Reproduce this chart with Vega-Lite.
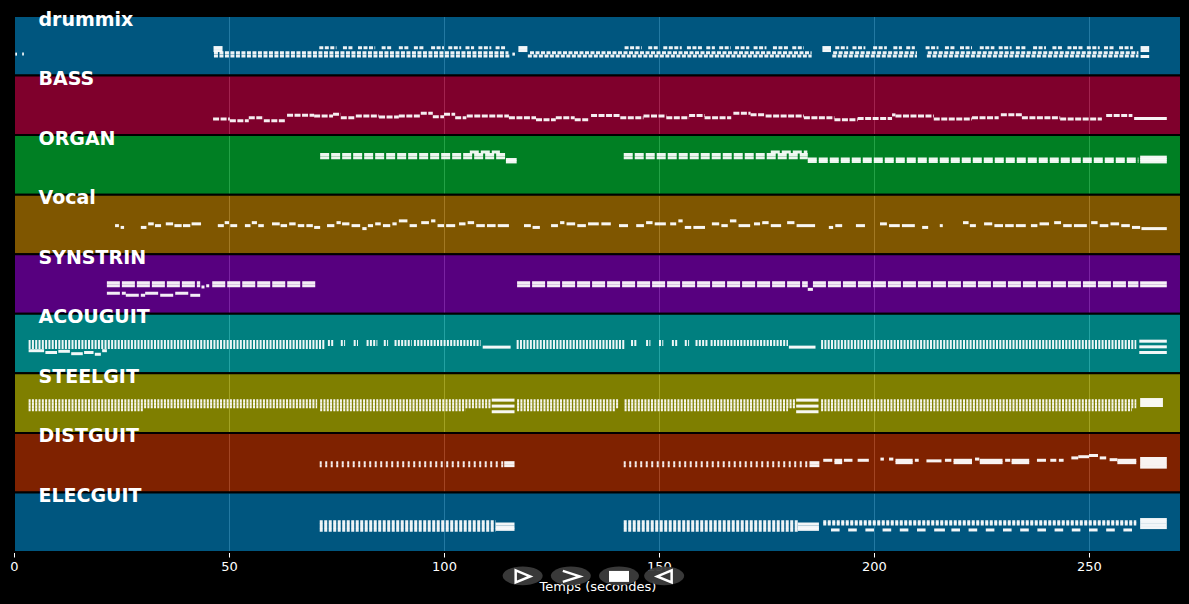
{
  "$schema": "https://vega.github.io/schema/vega-lite/v6.json",
  "width": 1167,
  "height": 536,
  "autosize": {"type": "none"},
  "padding": {"left": 14, "top": 16, "right": 8, "bottom": 52},
  "background": "#000000",
  "config": {"view": {"stroke": null}, "font": "DejaVu Sans"},
  "datasets": {
    "tracks": [
      {"name": "drummix", "from": 0, "to": 1},
      {"name": "BASS", "from": 1, "to": 2},
      {"name": "ORGAN", "from": 2, "to": 3},
      {"name": "Vocal", "from": 3, "to": 4},
      {"name": "SYNSTRIN", "from": 4, "to": 5},
      {"name": "ACOUGUIT", "from": 5, "to": 6},
      {"name": "STEELGIT", "from": 6, "to": 7},
      {"name": "DISTGUIT", "from": 7, "to": 8},
      {"name": "ELECGUIT", "from": 8, "to": 9}
    ],
    "textures": [
      {"k": "drummix", "s": 46.5, "e": 115.2, "y": 0.67},
      {"k": "drummix", "s": 119.5, "e": 185.5, "y": 0.67},
      {"k": "drummix", "s": 190.3, "e": 210, "y": 0.67},
      {"k": "drummix", "s": 212.3, "e": 261.5, "y": 0.67},
      {"k": "drummix", "s": 46.5, "e": 115, "y": 0.615},
      {"k": "drummix", "s": 120, "e": 185.5, "y": 0.615},
      {"k": "drummix", "s": 190.5, "e": 210, "y": 0.615},
      {"k": "drummix", "s": 212.5, "e": 261.5, "y": 0.615},
      {"k": "drummix", "s": 71, "e": 75, "y": 0.535},
      {"k": "drummix", "s": 76.5, "e": 79, "y": 0.535},
      {"k": "drummix", "s": 80, "e": 84, "y": 0.535},
      {"k": "drummix", "s": 85.5, "e": 88, "y": 0.535},
      {"k": "drummix", "s": 89.5, "e": 92, "y": 0.535},
      {"k": "drummix", "s": 93, "e": 95.5, "y": 0.535},
      {"k": "drummix", "s": 97, "e": 100, "y": 0.535},
      {"k": "drummix", "s": 101, "e": 104, "y": 0.535},
      {"k": "drummix", "s": 105, "e": 107, "y": 0.535},
      {"k": "drummix", "s": 108, "e": 111, "y": 0.535},
      {"k": "drummix", "s": 112, "e": 114.2, "y": 0.535},
      {"k": "drummix", "s": 142, "e": 146, "y": 0.535},
      {"k": "drummix", "s": 147.5, "e": 150, "y": 0.535},
      {"k": "drummix", "s": 151, "e": 155.3, "y": 0.535},
      {"k": "drummix", "s": 156.5, "e": 160, "y": 0.535},
      {"k": "drummix", "s": 161, "e": 163, "y": 0.535},
      {"k": "drummix", "s": 164, "e": 166.7, "y": 0.535},
      {"k": "drummix", "s": 167.7, "e": 171, "y": 0.535},
      {"k": "drummix", "s": 172, "e": 175, "y": 0.535},
      {"k": "drummix", "s": 176.5, "e": 180, "y": 0.535},
      {"k": "drummix", "s": 181, "e": 183.7, "y": 0.535},
      {"k": "drummix", "s": 191, "e": 194, "y": 0.535},
      {"k": "drummix", "s": 195, "e": 198, "y": 0.535},
      {"k": "drummix", "s": 199.8, "e": 203, "y": 0.535},
      {"k": "drummix", "s": 204.5, "e": 206.5, "y": 0.535},
      {"k": "drummix", "s": 207.5, "e": 209.5, "y": 0.535},
      {"k": "drummix", "s": 212, "e": 215, "y": 0.535},
      {"k": "drummix", "s": 216.5, "e": 219, "y": 0.535},
      {"k": "drummix", "s": 220, "e": 222.8, "y": 0.535},
      {"k": "drummix", "s": 224.6, "e": 228, "y": 0.535},
      {"k": "drummix", "s": 229, "e": 232, "y": 0.535},
      {"k": "drummix", "s": 233, "e": 235.3, "y": 0.535},
      {"k": "drummix", "s": 237, "e": 240, "y": 0.535},
      {"k": "drummix", "s": 241.5, "e": 244, "y": 0.535},
      {"k": "drummix", "s": 245, "e": 248.6, "y": 0.535},
      {"k": "drummix", "s": 249.5, "e": 252.5, "y": 0.535},
      {"k": "drummix", "s": 253.5, "e": 256, "y": 0.535},
      {"k": "drummix", "s": 257, "e": 260.2, "y": 0.535},
      {"k": "BASS", "s": 46.3, "e": 50.2, "y": 1.73},
      {"k": "BASS", "s": 50.2, "e": 54.6, "y": 1.76},
      {"k": "BASS", "s": 54.6, "e": 58.1, "y": 1.71},
      {"k": "BASS", "s": 58.1, "e": 63, "y": 1.76},
      {"k": "BASS", "s": 63.5, "e": 69.8, "y": 1.665},
      {"k": "BASS", "s": 69.8, "e": 74.2, "y": 1.68},
      {"k": "BASS", "s": 74.2, "e": 76, "y": 1.65},
      {"k": "BASS", "s": 76, "e": 79.5, "y": 1.71},
      {"k": "BASS", "s": 79.5, "e": 84.9, "y": 1.68},
      {"k": "BASS", "s": 84.9, "e": 89.5, "y": 1.695},
      {"k": "BASS", "s": 89.5, "e": 94.6, "y": 1.68},
      {"k": "BASS", "s": 94.6, "e": 97.4, "y": 1.635},
      {"k": "BASS", "s": 97.4, "e": 100, "y": 1.69},
      {"k": "BASS", "s": 100, "e": 102.6, "y": 1.65},
      {"k": "BASS", "s": 102.6, "e": 105.2, "y": 1.71},
      {"k": "BASS", "s": 105.3, "e": 115.1, "y": 1.68},
      {"k": "BASS", "s": 115.1, "e": 121.4, "y": 1.71},
      {"k": "BASS", "s": 121.4, "e": 126, "y": 1.74},
      {"k": "BASS", "s": 126, "e": 130.4, "y": 1.71},
      {"k": "BASS", "s": 130.4, "e": 133.9, "y": 1.74},
      {"k": "BASS", "s": 134.2, "e": 141, "y": 1.67},
      {"k": "BASS", "s": 141, "e": 146.4, "y": 1.71},
      {"k": "BASS", "s": 146.4, "e": 151.7, "y": 1.68},
      {"k": "BASS", "s": 151.7, "e": 157, "y": 1.71},
      {"k": "BASS", "s": 157, "e": 160.6, "y": 1.67},
      {"k": "BASS", "s": 160.6, "e": 166.8, "y": 1.71},
      {"k": "BASS", "s": 167.3, "e": 171.3, "y": 1.635},
      {"k": "BASS", "s": 171.3, "e": 174.8, "y": 1.66},
      {"k": "BASS", "s": 174.8, "e": 183.7, "y": 1.68},
      {"k": "BASS", "s": 183.7, "e": 190.8, "y": 1.71},
      {"k": "BASS", "s": 190.8, "e": 196.2, "y": 1.74},
      {"k": "BASS", "s": 196.2, "e": 204.2, "y": 1.72},
      {"k": "BASS", "s": 204.2, "e": 205, "y": 1.66},
      {"k": "BASS", "s": 205, "e": 213.9, "y": 1.68},
      {"k": "BASS", "s": 213.9, "e": 222.8, "y": 1.73},
      {"k": "BASS", "s": 222.8, "e": 229, "y": 1.71},
      {"k": "BASS", "s": 229.5, "e": 234.4, "y": 1.66},
      {"k": "BASS", "s": 234.4, "e": 243.3, "y": 1.71},
      {"k": "BASS", "s": 243.3, "e": 253, "y": 1.73},
      {"k": "BASS", "s": 254, "e": 260.1, "y": 1.67},
      {"k": "ORGAN", "s": 71.2, "e": 114.2, "y": 2.325},
      {"k": "ORGAN", "s": 71.2, "e": 114.2, "y": 2.38},
      {"k": "ORGAN", "s": 106, "e": 113, "y": 2.285},
      {"k": "ORGAN", "s": 141.8, "e": 184.6, "y": 2.325},
      {"k": "ORGAN", "s": 141.8, "e": 184.6, "y": 2.38},
      {"k": "ORGAN", "s": 176, "e": 184.5, "y": 2.285},
      {"k": "ORGAN", "s": 184.6, "e": 261.5, "y": 2.4},
      {"k": "ORGAN", "s": 184.6, "e": 261.5, "y": 2.445},
      {"k": "SYNSTRIN", "s": 21.6, "e": 43.3, "y": 4.48},
      {"k": "SYNSTRIN", "s": 21.6, "e": 43.3, "y": 4.53},
      {"k": "SYNSTRIN", "s": 46.1, "e": 70.4, "y": 4.48},
      {"k": "SYNSTRIN", "s": 46.1, "e": 70.4, "y": 4.53},
      {"k": "SYNSTRIN", "s": 117, "e": 184.6, "y": 4.48},
      {"k": "SYNSTRIN", "s": 117, "e": 184.6, "y": 4.53},
      {"k": "SYNSTRIN", "s": 185.8, "e": 261.5, "y": 4.48},
      {"k": "SYNSTRIN", "s": 185.8, "e": 261.5, "y": 4.53},
      {"k": "SYNSTRIN", "s": 21.6, "e": 26, "y": 4.655},
      {"k": "SYNSTRIN", "s": 26, "e": 30.5, "y": 4.69},
      {"k": "SYNSTRIN", "s": 30.5, "e": 34, "y": 4.655},
      {"k": "SYNSTRIN", "s": 34, "e": 37.5, "y": 4.69},
      {"k": "SYNSTRIN", "s": 37.5, "e": 41, "y": 4.655},
      {"k": "SYNSTRIN", "s": 41, "e": 43.3, "y": 4.69},
      {"k": "ACOUGUIT", "s": 3.4, "e": 72.4, "y": 5.465},
      {"k": "ACOUGUIT", "s": 3.4, "e": 72.4, "y": 5.515},
      {"k": "ACOUGUIT", "s": 3.4, "e": 72.4, "y": 5.565},
      {"k": "ACOUGUIT", "s": 116.9, "e": 142, "y": 5.465},
      {"k": "ACOUGUIT", "s": 116.9, "e": 142, "y": 5.515},
      {"k": "ACOUGUIT", "s": 116.9, "e": 142, "y": 5.565},
      {"k": "ACOUGUIT", "s": 187.7, "e": 261, "y": 5.465},
      {"k": "ACOUGUIT", "s": 187.7, "e": 261, "y": 5.515},
      {"k": "ACOUGUIT", "s": 187.7, "e": 261, "y": 5.565},
      {"k": "ACOUGUIT", "s": 73, "e": 74.5, "y": 5.465},
      {"k": "ACOUGUIT", "s": 76, "e": 77, "y": 5.465},
      {"k": "ACOUGUIT", "s": 79, "e": 80, "y": 5.465},
      {"k": "ACOUGUIT", "s": 82, "e": 84.5, "y": 5.465},
      {"k": "ACOUGUIT", "s": 86, "e": 87, "y": 5.465},
      {"k": "ACOUGUIT", "s": 88.5, "e": 92.5, "y": 5.465},
      {"k": "ACOUGUIT", "s": 73, "e": 74.5, "y": 5.515},
      {"k": "ACOUGUIT", "s": 76, "e": 77, "y": 5.515},
      {"k": "ACOUGUIT", "s": 79, "e": 80, "y": 5.515},
      {"k": "ACOUGUIT", "s": 82, "e": 84.5, "y": 5.515},
      {"k": "ACOUGUIT", "s": 86, "e": 87, "y": 5.515},
      {"k": "ACOUGUIT", "s": 88.5, "e": 92.5, "y": 5.515},
      {"k": "ACOUGUIT", "s": 143.5, "e": 145, "y": 5.465},
      {"k": "ACOUGUIT", "s": 147, "e": 148, "y": 5.465},
      {"k": "ACOUGUIT", "s": 150, "e": 151, "y": 5.465},
      {"k": "ACOUGUIT", "s": 153, "e": 154.5, "y": 5.465},
      {"k": "ACOUGUIT", "s": 156, "e": 157, "y": 5.465},
      {"k": "ACOUGUIT", "s": 158.5, "e": 161.5, "y": 5.465},
      {"k": "ACOUGUIT", "s": 143.5, "e": 145, "y": 5.515},
      {"k": "ACOUGUIT", "s": 147, "e": 148, "y": 5.515},
      {"k": "ACOUGUIT", "s": 150, "e": 151, "y": 5.515},
      {"k": "ACOUGUIT", "s": 153, "e": 154.5, "y": 5.515},
      {"k": "ACOUGUIT", "s": 156, "e": 157, "y": 5.515},
      {"k": "ACOUGUIT", "s": 158.5, "e": 161.5, "y": 5.515},
      {"k": "ACOUGUIT", "s": 93, "e": 108.5, "y": 5.465},
      {"k": "ACOUGUIT", "s": 93, "e": 108.5, "y": 5.515},
      {"k": "ACOUGUIT", "s": 162, "e": 180, "y": 5.465},
      {"k": "ACOUGUIT", "s": 162, "e": 180, "y": 5.515},
      {"k": "STEELGIT", "s": 3.4, "e": 70.5, "y": 6.46},
      {"k": "STEELGIT", "s": 3.4, "e": 70.5, "y": 6.51},
      {"k": "STEELGIT", "s": 3.4, "e": 70.5, "y": 6.56},
      {"k": "STEELGIT", "s": 71.2, "e": 111, "y": 6.46},
      {"k": "STEELGIT", "s": 71.2, "e": 111, "y": 6.51},
      {"k": "STEELGIT", "s": 71.2, "e": 111, "y": 6.56},
      {"k": "STEELGIT", "s": 117, "e": 140.5, "y": 6.46},
      {"k": "STEELGIT", "s": 117, "e": 140.5, "y": 6.51},
      {"k": "STEELGIT", "s": 117, "e": 140.5, "y": 6.56},
      {"k": "STEELGIT", "s": 142, "e": 181.9, "y": 6.46},
      {"k": "STEELGIT", "s": 142, "e": 181.9, "y": 6.51},
      {"k": "STEELGIT", "s": 142, "e": 181.9, "y": 6.56},
      {"k": "STEELGIT", "s": 187.7, "e": 261, "y": 6.46},
      {"k": "STEELGIT", "s": 187.7, "e": 261, "y": 6.51},
      {"k": "STEELGIT", "s": 187.7, "e": 261, "y": 6.56},
      {"k": "STEELGIT", "s": 3.4, "e": 30, "y": 6.61},
      {"k": "STEELGIT", "s": 71.2, "e": 105, "y": 6.61},
      {"k": "STEELGIT", "s": 117, "e": 140, "y": 6.61},
      {"k": "STEELGIT", "s": 142, "e": 180, "y": 6.61},
      {"k": "STEELGIT", "s": 187.7, "e": 260, "y": 6.61},
      {"k": "DISTGUIT", "s": 71.1, "e": 114, "y": 7.5},
      {"k": "DISTGUIT", "s": 71.1, "e": 114, "y": 7.55},
      {"k": "DISTGUIT", "s": 141.8, "e": 185, "y": 7.5},
      {"k": "DISTGUIT", "s": 141.8, "e": 185, "y": 7.55},
      {"k": "ELECGUIT", "s": 71.1, "e": 112, "y": 8.49},
      {"k": "ELECGUIT", "s": 71.1, "e": 112, "y": 8.54},
      {"k": "ELECGUIT", "s": 71.1, "e": 112, "y": 8.59},
      {"k": "ELECGUIT", "s": 71.1, "e": 112, "y": 8.635},
      {"k": "ELECGUIT", "s": 141.8, "e": 182.3, "y": 8.49},
      {"k": "ELECGUIT", "s": 141.8, "e": 182.3, "y": 8.54},
      {"k": "ELECGUIT", "s": 141.8, "e": 182.3, "y": 8.59},
      {"k": "ELECGUIT", "s": 141.8, "e": 182.3, "y": 8.635},
      {"k": "ELECGUIT", "s": 188.2, "e": 261, "y": 8.49},
      {"k": "ELECGUIT", "s": 188.2, "e": 261, "y": 8.53}
    ],
    "notes": [
      {"s": 0.3, "e": 0.7, "y": 0.64},
      {"s": 1.9, "e": 2.3, "y": 0.64},
      {"s": 46.4, "e": 48.5, "y": 0.53},
      {"s": 46.4, "e": 48.5, "y": 0.58},
      {"s": 115.9, "e": 116.5, "y": 0.64},
      {"s": 117.3, "e": 119.4, "y": 0.53},
      {"s": 117.3, "e": 119.4, "y": 0.58},
      {"s": 188, "e": 190, "y": 0.53},
      {"s": 188, "e": 190, "y": 0.58},
      {"s": 262, "e": 264, "y": 0.53},
      {"s": 262, "e": 264, "y": 0.58},
      {"s": 262, "e": 264, "y": 0.68},
      {"s": 260.5, "e": 268.1, "y": 1.72},
      {"s": 114.4, "e": 116.9, "y": 2.41},
      {"s": 114.4, "e": 116.9, "y": 2.45},
      {"s": 261.9, "e": 268.1, "y": 2.37},
      {"s": 261.9, "e": 268.1, "y": 2.41},
      {"s": 261.9, "e": 268.1, "y": 2.45},
      {"s": 23.5, "e": 24.4, "y": 3.52},
      {"s": 24.8, "e": 25.6, "y": 3.55},
      {"s": 29.5, "e": 30.8, "y": 3.55},
      {"s": 31.2, "e": 32.5, "y": 3.49},
      {"s": 32.8, "e": 34.2, "y": 3.52},
      {"s": 35.3, "e": 37, "y": 3.49},
      {"s": 37.3, "e": 39, "y": 3.52},
      {"s": 39.3, "e": 41, "y": 3.52},
      {"s": 41.3, "e": 43.5, "y": 3.49},
      {"s": 47.4, "e": 48.8, "y": 3.52},
      {"s": 49, "e": 50, "y": 3.47},
      {"s": 50.3, "e": 51.9, "y": 3.52},
      {"s": 53.7, "e": 55, "y": 3.52},
      {"s": 55.3, "e": 56.5, "y": 3.47},
      {"s": 56.8, "e": 58.1, "y": 3.52},
      {"s": 60, "e": 61.8, "y": 3.49},
      {"s": 62, "e": 63.5, "y": 3.52},
      {"s": 64, "e": 65.5, "y": 3.49},
      {"s": 66, "e": 67.5, "y": 3.52},
      {"s": 68, "e": 69.5, "y": 3.52},
      {"s": 69.8, "e": 71.2, "y": 3.55},
      {"s": 72.8, "e": 74.5, "y": 3.52},
      {"s": 75, "e": 76, "y": 3.47},
      {"s": 76.3, "e": 78, "y": 3.49},
      {"s": 78.5, "e": 80.5, "y": 3.52},
      {"s": 81, "e": 82, "y": 3.57},
      {"s": 82.3, "e": 83.5, "y": 3.52},
      {"s": 84, "e": 85.3, "y": 3.49},
      {"s": 85.8, "e": 87.5, "y": 3.52},
      {"s": 88, "e": 89, "y": 3.49},
      {"s": 89.5, "e": 91.5, "y": 3.44},
      {"s": 92, "e": 93.7, "y": 3.52},
      {"s": 94.7, "e": 96.5, "y": 3.47},
      {"s": 97, "e": 98, "y": 3.44},
      {"s": 98.5, "e": 100, "y": 3.52},
      {"s": 100.5, "e": 102.6, "y": 3.52},
      {"s": 103.5, "e": 105, "y": 3.49},
      {"s": 105.5, "e": 107, "y": 3.47},
      {"s": 107.5, "e": 109.5, "y": 3.52},
      {"s": 110, "e": 112, "y": 3.52},
      {"s": 112.5, "e": 115.1, "y": 3.52},
      {"s": 118.6, "e": 120.2, "y": 3.52},
      {"s": 120.6, "e": 122.3, "y": 3.55},
      {"s": 124.9, "e": 126.5, "y": 3.52},
      {"s": 127, "e": 128, "y": 3.47},
      {"s": 128.5, "e": 130.5, "y": 3.49},
      {"s": 131, "e": 133, "y": 3.52},
      {"s": 133.5, "e": 136, "y": 3.49},
      {"s": 136.6, "e": 138.8, "y": 3.49},
      {"s": 140.7, "e": 142.8, "y": 3.52},
      {"s": 144.7, "e": 146.5, "y": 3.52},
      {"s": 147, "e": 148.5, "y": 3.47},
      {"s": 149, "e": 151.6, "y": 3.49},
      {"s": 152.6, "e": 154, "y": 3.49},
      {"s": 154.5, "e": 155.5, "y": 3.44},
      {"s": 156, "e": 157.5, "y": 3.55},
      {"s": 158, "e": 160.7, "y": 3.55},
      {"s": 162.3, "e": 164, "y": 3.49},
      {"s": 164.5, "e": 166, "y": 3.52},
      {"s": 166.5, "e": 168, "y": 3.44},
      {"s": 168.5, "e": 171.2, "y": 3.52},
      {"s": 172.1, "e": 173.5, "y": 3.49},
      {"s": 174, "e": 175.5, "y": 3.47},
      {"s": 176, "e": 178.4, "y": 3.52},
      {"s": 179.8, "e": 181.5, "y": 3.47},
      {"s": 182, "e": 186.3, "y": 3.52},
      {"s": 189.5, "e": 190.5, "y": 3.55},
      {"s": 191, "e": 192.6, "y": 3.52},
      {"s": 195.8, "e": 197.9, "y": 3.52},
      {"s": 201.4, "e": 203, "y": 3.49},
      {"s": 203.5, "e": 206, "y": 3.52},
      {"s": 206.5, "e": 209.5, "y": 3.52},
      {"s": 211.2, "e": 212.6, "y": 3.55},
      {"s": 215.3, "e": 216, "y": 3.52},
      {"s": 220.7, "e": 222, "y": 3.47},
      {"s": 222.3, "e": 223.7, "y": 3.52},
      {"s": 225.6, "e": 227.5, "y": 3.49},
      {"s": 228, "e": 230, "y": 3.52},
      {"s": 230.5, "e": 232.5, "y": 3.52},
      {"s": 233, "e": 235.3, "y": 3.52},
      {"s": 236.5, "e": 238, "y": 3.52},
      {"s": 238.5, "e": 240.7, "y": 3.49},
      {"s": 241.9, "e": 243.5, "y": 3.47},
      {"s": 244, "e": 246, "y": 3.52},
      {"s": 246.5, "e": 249.5, "y": 3.52},
      {"s": 250.5, "e": 252, "y": 3.47},
      {"s": 252.5, "e": 254.5, "y": 3.52},
      {"s": 255, "e": 257, "y": 3.49},
      {"s": 257.5, "e": 259.5, "y": 3.52},
      {"s": 260, "e": 261.9, "y": 3.55},
      {"s": 262.2, "e": 268.1, "y": 3.57},
      {"s": 43.6, "e": 44.3, "y": 4.55},
      {"s": 44.7, "e": 45.4, "y": 4.53},
      {"s": 184.6, "e": 185.8, "y": 4.59},
      {"s": 261.9, "e": 268.1, "y": 4.48},
      {"s": 261.9, "e": 268.1, "y": 4.53},
      {"s": 3.4, "e": 7, "y": 5.62},
      {"s": 7.3, "e": 10, "y": 5.65},
      {"s": 10.3, "e": 13, "y": 5.63},
      {"s": 13.3, "e": 16, "y": 5.67},
      {"s": 16.3, "e": 18.5, "y": 5.65},
      {"s": 18.8, "e": 20.2, "y": 5.68},
      {"s": 20.5, "e": 21.6, "y": 5.62},
      {"s": 109, "e": 115.5, "y": 5.56},
      {"s": 180.2, "e": 186.4, "y": 5.56},
      {"s": 261.7, "e": 268.1, "y": 5.46},
      {"s": 261.7, "e": 268.1, "y": 5.555},
      {"s": 261.7, "e": 268.1, "y": 5.65},
      {"s": 111.1, "e": 116.4, "y": 6.45},
      {"s": 111.1, "e": 116.4, "y": 6.55},
      {"s": 111.1, "e": 116.4, "y": 6.645},
      {"s": 181.9, "e": 187.1, "y": 6.45},
      {"s": 181.9, "e": 187.1, "y": 6.55},
      {"s": 181.9, "e": 187.1, "y": 6.645},
      {"s": 261.9, "e": 267.2, "y": 6.44},
      {"s": 261.9, "e": 267.2, "y": 6.49},
      {"s": 261.9, "e": 267.2, "y": 6.54},
      {"s": 114, "e": 116.4, "y": 7.5},
      {"s": 114, "e": 116.4, "y": 7.55},
      {"s": 185, "e": 187.3, "y": 7.5},
      {"s": 185, "e": 187.3, "y": 7.55},
      {"s": 188.2, "e": 190.3, "y": 7.46},
      {"s": 190.8, "e": 192.6, "y": 7.46},
      {"s": 190.8, "e": 192.6, "y": 7.5},
      {"s": 193, "e": 195, "y": 7.46},
      {"s": 196.2, "e": 198.8, "y": 7.46},
      {"s": 201.5, "e": 202.3, "y": 7.44},
      {"s": 203.5, "e": 204.5, "y": 7.44},
      {"s": 205, "e": 209, "y": 7.46},
      {"s": 205, "e": 209, "y": 7.5},
      {"s": 209.5, "e": 210.4, "y": 7.46},
      {"s": 212.2, "e": 215.7, "y": 7.47},
      {"s": 216.5, "e": 218, "y": 7.46},
      {"s": 218.5, "e": 222.8, "y": 7.46},
      {"s": 218.5, "e": 222.8, "y": 7.5},
      {"s": 223.5, "e": 224.5, "y": 7.44},
      {"s": 224.6, "e": 229.9, "y": 7.46},
      {"s": 224.6, "e": 229.9, "y": 7.5},
      {"s": 230.5, "e": 231.7, "y": 7.46},
      {"s": 232, "e": 236.1, "y": 7.46},
      {"s": 232, "e": 236.1, "y": 7.5},
      {"s": 237.9, "e": 240, "y": 7.46},
      {"s": 241, "e": 242.4, "y": 7.46},
      {"s": 243, "e": 244.1, "y": 7.46},
      {"s": 245.9, "e": 247.5, "y": 7.42},
      {"s": 247.5, "e": 250, "y": 7.4},
      {"s": 250, "e": 252.1, "y": 7.38},
      {"s": 252.5, "e": 254, "y": 7.42},
      {"s": 254.8, "e": 256.6, "y": 7.45},
      {"s": 256.6, "e": 261, "y": 7.46},
      {"s": 256.6, "e": 261, "y": 7.5},
      {"s": 261.9, "e": 268.1, "y": 7.43},
      {"s": 261.9, "e": 268.1, "y": 7.48},
      {"s": 261.9, "e": 268.1, "y": 7.53},
      {"s": 261.9, "e": 268.1, "y": 7.575},
      {"s": 112, "e": 116.4, "y": 8.53},
      {"s": 112, "e": 116.4, "y": 8.58},
      {"s": 112, "e": 116.4, "y": 8.62},
      {"s": 182.3, "e": 187.2, "y": 8.53},
      {"s": 182.3, "e": 187.2, "y": 8.58},
      {"s": 182.3, "e": 187.2, "y": 8.62},
      {"s": 190, "e": 192, "y": 8.63},
      {"s": 194, "e": 196, "y": 8.63},
      {"s": 198, "e": 200, "y": 8.63},
      {"s": 202, "e": 204, "y": 8.63},
      {"s": 206, "e": 208, "y": 8.63},
      {"s": 210, "e": 212, "y": 8.63},
      {"s": 214, "e": 216.5, "y": 8.63},
      {"s": 218, "e": 220, "y": 8.63},
      {"s": 222, "e": 224, "y": 8.63},
      {"s": 226, "e": 228, "y": 8.63},
      {"s": 230, "e": 232, "y": 8.63},
      {"s": 234, "e": 236, "y": 8.63},
      {"s": 238, "e": 240, "y": 8.63},
      {"s": 242, "e": 244, "y": 8.63},
      {"s": 246, "e": 248, "y": 8.63},
      {"s": 250, "e": 252, "y": 8.63},
      {"s": 254, "e": 256, "y": 8.63},
      {"s": 258, "e": 260, "y": 8.63},
      {"s": 261.9, "e": 268.1, "y": 8.455},
      {"s": 261.9, "e": 268.1, "y": 8.5},
      {"s": 261.9, "e": 268.1, "y": 8.545},
      {"s": 261.9, "e": 268.1, "y": 8.59}
    ],
    "buttons": [
      {"t": 118.3, "icon": "play"},
      {"t": 129.5, "icon": "next"},
      {"t": 140.7, "icon": "stop"},
      {"t": 151.2, "icon": "back"}
    ]
  },
  "layer": [
    {
      "data": {"name": "tracks"},
      "mark": {"type": "rect", "stroke": "#000000", "strokeWidth": 2, "fillOpacity": 0.85},
      "encoding": {
        "x": {
          "datum": 0,
          "type": "quantitative",
          "scale": {"domain": [0, 271.4], "nice": false, "zero": false},
          "axis": {
            "title": "Temps (secondes)",
            "values": [0, 50, 100, 150, 200, 250],
            "grid": true,
            "gridColor": "#ffffff",
            "gridOpacity": 0.9,
            "gridWidth": 1,
            "domain": false,
            "tickColor": "#ffffff",
            "tickSize": 5,
            "tickWidth": 1,
            "labelColor": "#ffffff",
            "labelFont": "DejaVu Sans",
            "labelFontSize": 13,
            "labelPadding": 3,
            "labelFlush": false,
            "labelOverlap": false,
            "titleColor": "#ffffff",
            "titleFont": "DejaVu Sans",
            "titleFontSize": 13,
            "titleFontWeight": "normal",
            "titlePadding": 7,
            "zindex": 0
          }
        },
        "x2": {"datum": 271.4},
        "y": {
          "field": "from",
          "type": "quantitative",
          "scale": {"domain": [0, 9], "reverse": true, "nice": false, "zero": false},
          "axis": null
        },
        "y2": {"field": "to"},
        "color": {
          "field": "name",
          "type": "nominal",
          "scale": {
            "domain": ["drummix", "BASS", "ORGAN", "Vocal", "SYNSTRIN", "ACOUGUIT", "STEELGIT", "DISTGUIT", "ELECGUIT"],
            "range": ["#006595", "#950034", "#009529", "#956500", "#660095", "#009595", "#959500", "#952800", "#006595"]
          },
          "legend": null
        }
      }
    },
    {
      "data": {"name": "textures"},
      "mark": {"type": "rule", "strokeWidth": 3, "color": "#ffffff", "opacity": 0.93},
      "encoding": {
        "x": {"field": "s", "type": "quantitative"},
        "x2": {"field": "e"},
        "y": {"field": "y", "type": "quantitative"},
        "strokeDash": {
          "field": "k",
          "type": "nominal",
          "scale": {
            "domain": ["drummix", "BASS", "ORGAN", "SYNSTRIN", "ACOUGUIT", "STEELGIT", "DISTGUIT", "ELECGUIT"],
            "range": [[4, 1.5], [6, 1.5], [9, 2], [13, 2], [2, 1.3], [2, 1.3], [2, 3.5], [3, 1.5]]
          },
          "legend": null
        }
      }
    },
    {
      "data": {"name": "notes"},
      "mark": {"type": "rule", "strokeWidth": 3, "color": "#ffffff", "opacity": 0.95},
      "encoding": {
        "x": {"field": "s", "type": "quantitative"},
        "x2": {"field": "e"},
        "y": {"field": "y", "type": "quantitative"}
      }
    },
    {
      "data": {"name": "tracks"},
      "mark": {"type": "text", "align": "left", "baseline": "alphabetic", "dy": 9.5, "font": "DejaVu Sans", "fontSize": 19, "fontWeight": "bold", "color": "#ffffff"},
      "encoding": {
        "x": {"datum": 5.7, "type": "quantitative"},
        "y": {"field": "from", "type": "quantitative"},
        "text": {"field": "name"}
      }
    },
    {
      "data": {"name": "buttons"},
      "mark": {"type": "point", "filled": true, "color": "#3c3c3c", "opacity": 0.95, "size": 1600, "shape": "M -1 0 A 1 0.47 0 1 0 1 0 A 1 0.47 0 1 0 -1 0 Z"},
      "encoding": {
        "x": {"field": "t", "type": "quantitative"},
        "y": {"datum": 9.4, "type": "quantitative"}
      }
    },
    {
      "data": {"name": "buttons"},
      "transform": [{"filter": "datum.icon !== 'stop'"}],
      "mark": {"type": "point", "filled": false, "color": "#ffffff", "strokeWidth": 2.5, "opacity": 1, "size": 400},
      "encoding": {
        "x": {"field": "t", "type": "quantitative"},
        "y": {"datum": 9.41, "type": "quantitative"},
        "shape": {
          "field": "icon",
          "type": "nominal",
          "scale": {
            "domain": ["play", "next", "back"],
            "range": ["M -0.7 -0.6 L 0.75 0 L -0.7 0.6 Z", "M -0.8 -0.55 L 0.9 0 L -0.8 0.55", "M 0.75 -0.6 L -0.7 0 L 0.75 0.6 Z"]
          },
          "legend": null
        }
      }
    },
    {
      "data": {"name": "buttons"},
      "transform": [{"filter": "datum.icon === 'stop'"}],
      "mark": {"type": "point", "filled": true, "color": "#ffffff", "opacity": 1, "size": 400, "shape": "M -1 -0.55 L 1 -0.55 L 1 0.55 L -1 0.55 Z"},
      "encoding": {
        "x": {"field": "t", "type": "quantitative"},
        "y": {"datum": 9.41, "type": "quantitative"}
      }
    }
  ]
}
